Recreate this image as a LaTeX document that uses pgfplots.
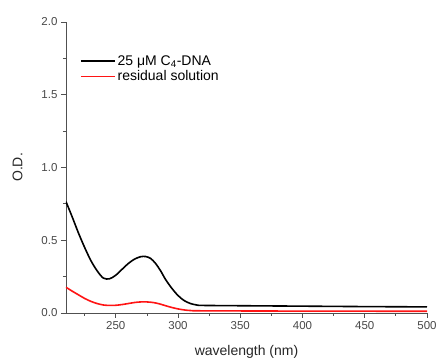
\documentclass[border=0pt]{standalone}
\usepackage{fontspec}
\setmainfont{Liberation Sans}
\usepackage{pgfplots}
\pgfplotsset{compat=1.18}
\definecolor{axgray}{RGB}{80,80,80}
\definecolor{myred}{RGB}{255,20,20}
\begin{document}
\begin{tikzpicture}
\begin{axis}[
  scale only axis, width=361pt, height=291pt,
  xmin=210, xmax=500, ymin=0, ymax=2.0,
  axis x line*=bottom, axis y line*=left,
  axis line style={axgray, line width=0.8pt},
  every tick/.style={axgray, line width=0.8pt},
  tick align=outside,
  major tick length=5pt, minor tick length=3pt,
  xtick={250,300,350,400,450,500},
  minor xtick={225,275,325,375,425,475},
  ytick={0,0.5,1.0,1.5,2.0},
  minor ytick={0.25,0.75,1.25,1.75},
  yticklabel style={/pgf/number format/.cd, fixed, fixed zerofill, precision=1},
  /pgf/number format/assume math mode=true,
  tick label style={font=\fontsize{11.5}{13}\selectfont, text=axgray!90!black},
  xlabel={wavelength (nm)}, ylabel={O.D.},
  label style={font=\fontsize{14}{16}\selectfont, text=black!85},
  xlabel style={yshift=-9pt},
  ylabel style={yshift=12pt},
  legend style={at={(0.03,0.90)}, anchor=north west, draw=none, fill=none,
    font=\fontsize{14}{16}\selectfont, row sep=0pt},
  legend cell align=left,
  legend image code/.code={\draw[#1, line width=1.6pt] (0pt,0pt) -- (34pt,0pt);},
]
\addplot[black, line width=1.6pt, smooth] coordinates {
(210,0.765)(215,0.66)(220,0.55)(225,0.45)(230,0.36)(235,0.29)(240,0.24)(245,0.235)
(250,0.26)(255,0.30)(260,0.34)(265,0.37)(270,0.387)(274,0.388)(278,0.375)(282,0.34)
(286,0.29)(290,0.23)(295,0.17)(300,0.12)(305,0.085)(310,0.065)(315,0.055)(320,0.052)
(350,0.05)(400,0.047)(450,0.044)(500,0.042)};
\addlegendentry{25 μM C\textsubscript{4}-DNA}
\addplot[myred, line width=1.6pt, smooth] coordinates {
(210,0.177)(215,0.15)(220,0.125)(225,0.10)(230,0.08)(235,0.065)(240,0.055)(245,0.052)
(250,0.053)(255,0.058)(260,0.065)(265,0.072)(270,0.076)(275,0.076)(280,0.072)(285,0.063)
(290,0.05)(295,0.038)(300,0.028)(305,0.021)(310,0.017)(320,0.015)(400,0.013)(500,0.012)};
\addlegendentry{residual solution}
\end{axis}
\pgfresetboundingbox
\useasboundingbox (-66pt,-45pt) rectangle (371pt,313pt);
\end{tikzpicture}
\end{document}
